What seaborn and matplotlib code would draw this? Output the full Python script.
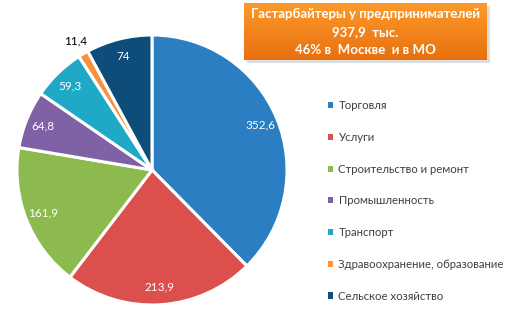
import numpy as np
import matplotlib
matplotlib.use("Agg")
import matplotlib.pyplot as plt
import seaborn as sns
from matplotlib.patches import Patch
from matplotlib.colors import LinearSegmentedColormap

categories = ["Торговля", "Услуги", "Строительство и ремонт", "Промышленность",
              "Транспорт", "Здравоохранение, образование", "Сельское хозяйство"]
values = [352.6, 213.9, 161.9, 64.8, 59.3, 11.4, 74]
value_labels = ["352,6", "213,9", "161,9", "64,8", "59,3", "11,4", "74"]
colors = ["#2A7EC1", "#DB504D", "#8DBA4F", "#7F62A5", "#1FA9C7", "#F7923E", "#0E4C79"]
title_lines = ["Гастарбайтеры у предпринимателей", "937,9  тыс.", "46% в  Москве  и в МО"]

sns.set_theme(style="white")
plt.rcParams['font.family'] = ['Lato', 'DejaVu Sans']

W, H = 507, 323
fig = plt.figure(figsize=(W / 100, H / 100), dpi=100)
fig.patch.set_facecolor("white")

cx, cy, r = 152, 170, 135
ax = fig.add_axes([(cx - r) / W, (H - cy - r) / H, 2 * r / W, 2 * r / H])
palette = sns.color_palette(colors)
wedges, _ = ax.pie(values, colors=palette, startangle=90, counterclock=False,
                   wedgeprops=dict(edgecolor="white", linewidth=2.2))
ax.set_xlim(-1, 1)
ax.set_ylim(-1, 1)
ax.set_aspect("equal")
ax.axis("off")

for w, lab in zip(wedges, value_labels):
    ang = np.deg2rad((w.theta1 + w.theta2) / 2)
    if lab == "11,4":
        d, col = 1.11, "black"
    else:
        d, col = 0.87, "white"
    ax.text(d * np.cos(ang), d * np.sin(ang), lab, ha="center", va="center",
            fontsize=8.5, color=col, clip_on=False)

# legend
handles = [Patch(facecolor=c, edgecolor="none") for c in palette]
leg = fig.legend(handles, categories, loc="upper left",
                 bbox_to_anchor=(318 / W, 1 - 90 / H), frameon=False,
                 fontsize=8.2, labelspacing=1.82, handlelength=0.45,
                 handleheight=0.45, handletextpad=0.45, labelcolor="#404040")

# title box
bx0, bx1, by0, by1 = 244, 487, 3, 60
shadow = fig.add_axes([(bx0 + 3) / W, (H - by1 - 3) / H, (bx1 - bx0) / W, (by1 - by0) / H])
shadow.set_facecolor("#C8C8C8")
shadow.set_xticks([]); shadow.set_yticks([])
for s in shadow.spines.values():
    s.set_visible(False)
shadow.patch.set_alpha(0.6)
bax = fig.add_axes([bx0 / W, (H - by1) / H, (bx1 - bx0) / W, (by1 - by0) / H])
grad = np.linspace(0, 1, 100).reshape(-1, 1)
cmap = LinearSegmentedColormap.from_list("o", ["#FB9A2C", "#E9700E"])
bax.imshow(grad, aspect="auto", cmap=cmap, extent=[0, 1, 0, 1], origin="upper")
bax.set_xticks([]); bax.set_yticks([])
for s in bax.spines.values():
    s.set_visible(False)
for i, line in enumerate(title_lines):
    bax.text(0.5, 0.8 - i * 0.31, line, ha="center", va="center", color="white",
             fontsize=9.5, fontweight="bold", transform=bax.transAxes)

fig.savefig("out.png", dpi=100, facecolor="white")
